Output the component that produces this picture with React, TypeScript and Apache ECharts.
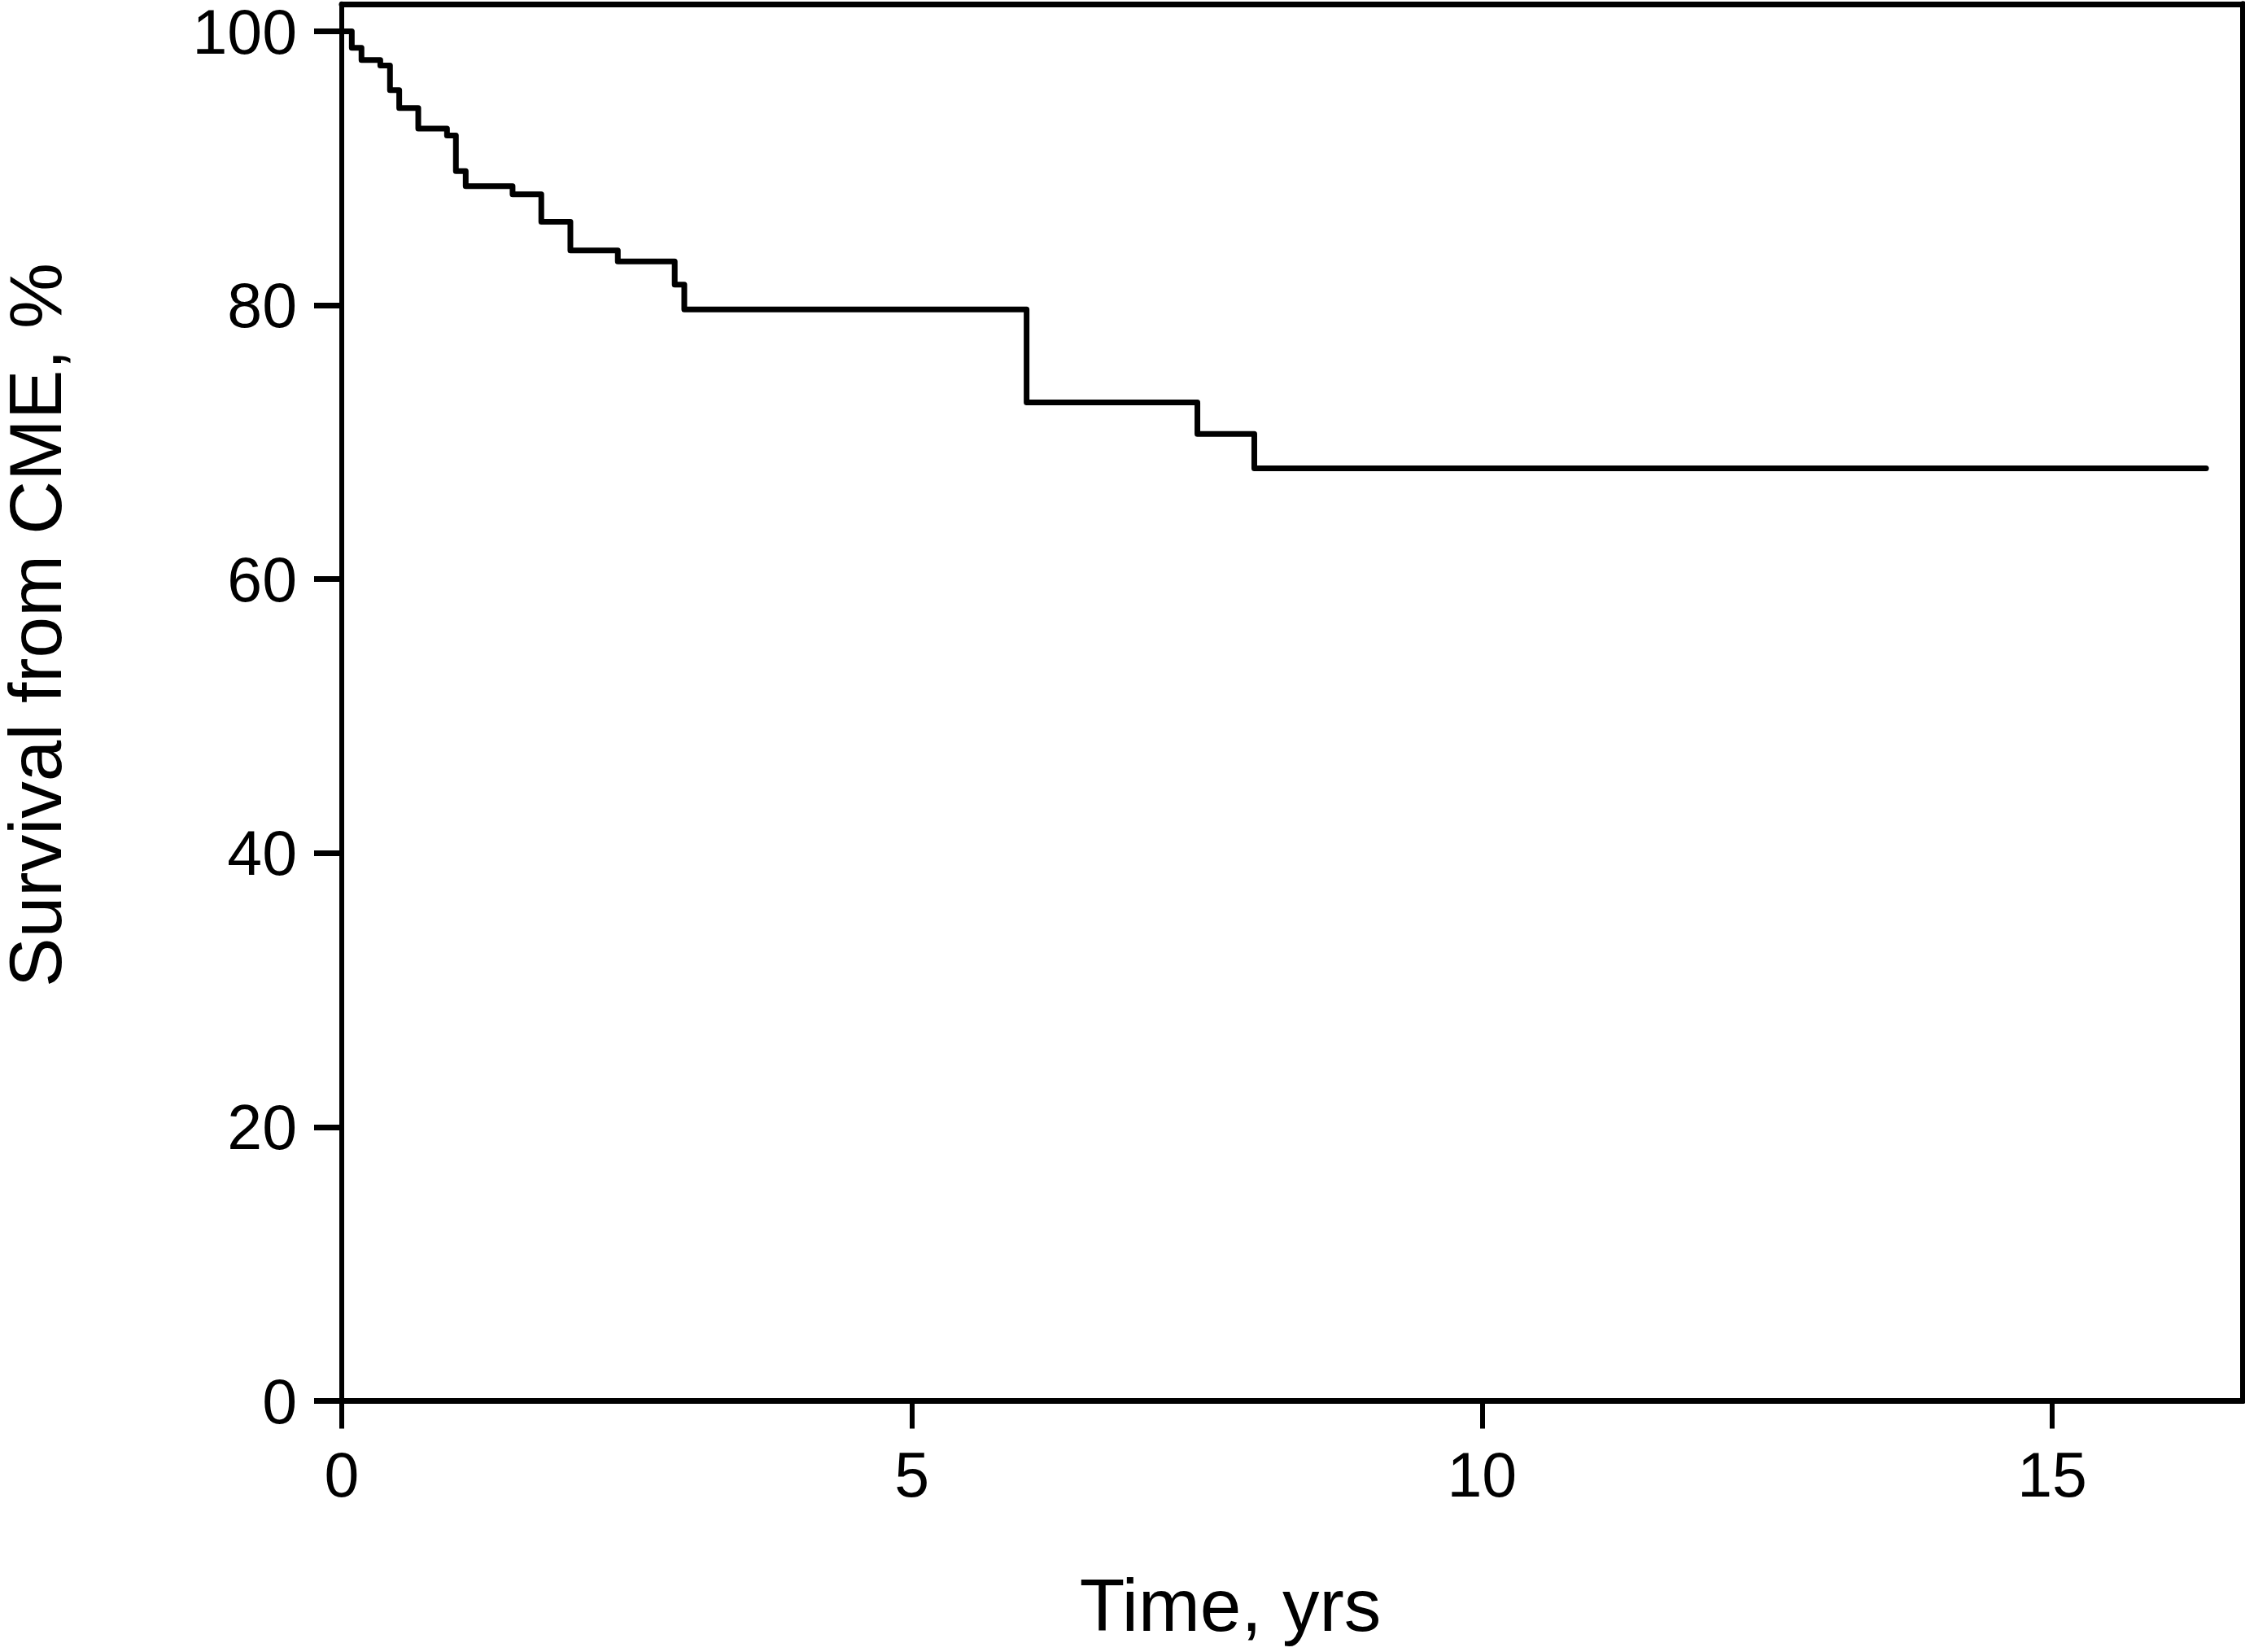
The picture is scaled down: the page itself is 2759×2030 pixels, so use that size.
import React, { useEffect, useRef } from "react";
import * as echarts from "echarts";

const times = [0, 0.088, 0.173, 0.338, 0.423, 0.504, 0.671, 0.923, 1.001, 1.087, 1.498, 1.75, 2.005, 2.421, 2.92, 3.004, 6.006, 7.504, 8.003, 16.35];
const survival = [100, 98.8, 97.9, 97.5, 95.7, 94.4, 92.9, 92.4, 89.8, 88.7, 88.1, 86.1, 84.0, 83.2, 81.5, 79.7, 72.9, 70.6, 68.1, 68.1];
const xTicks = [0, 5, 10, 15];
const yTicks = [0, 20, 40, 60, 80, 100];
const xTitle = "Time, yrs";
const yTitle = "Survival from CME, %";

const FONT = "'Liberation Sans', Arial, sans-serif";

export default function App() {
  const ref = useRef<HTMLDivElement>(null);
  useEffect(() => {
    document.body.style.margin = "0";
    const chart = echarts.init(ref.current!, null, { renderer: "svg" });
    const data = times.map((t, i) => [t, survival[i]]);
    chart.setOption({
      animation: false,
      backgroundColor: "#ffffff",
      grid: { left: 420, right: 3, top: 4, bottom: 308.5, containLabel: false },
      xAxis: [
        {
          type: "value",
          min: 0,
          max: 16.67,
          position: "bottom",
          axisLine: { show: true, onZero: false, lineStyle: { color: "#000", width: 7 } },
          axisTick: { show: true, length: 34, customValues: xTicks, lineStyle: { color: "#000", width: 6 } },
          axisLabel: { customValues: xTicks, margin: 52, fontSize: 77, fontFamily: FONT, color: "#000" },
          splitLine: { show: false },
        },
        {
          type: "value",
          min: 0,
          max: 16.67,
          position: "top",
          axisLine: { show: true, onZero: false, lineStyle: { color: "#000", width: 7 } },
          axisTick: { show: false },
          axisLabel: { show: false },
          splitLine: { show: false },
        },
      ],
      yAxis: [
        {
          type: "value",
          min: 0,
          max: 102,
          position: "left",
          axisLine: { show: true, onZero: false, lineStyle: { color: "#000", width: 6 } },
          axisTick: { show: true, length: 34, customValues: yTicks, lineStyle: { color: "#000", width: 7 } },
          axisLabel: { customValues: yTicks, margin: 55, fontSize: 77, fontFamily: FONT, color: "#000" },
          splitLine: { show: false },
        },
        {
          type: "value",
          min: 0,
          max: 102,
          position: "right",
          axisLine: { show: true, onZero: false, lineStyle: { color: "#000", width: 7 } },
          axisTick: { show: false },
          axisLabel: { show: false },
          splitLine: { show: false },
        },
      ],
      series: [
        {
          type: "line",
          step: "end",
          data,
          showSymbol: false,
          symbol: "none",
          lineStyle: { color: "#000", width: 7, cap: "round", join: "round" },
        },
      ],
      graphic: [
        {
          type: "text",
          x: 1512,
          y: 1972,
          style: { text: xTitle, fontSize: 91, fontFamily: FONT, fill: "#000", textAlign: "center", textVerticalAlign: "middle" },
        },
        {
          type: "text",
          x: 43,
          y: 768,
          rotation: Math.PI / 2,
          style: { text: yTitle, fontSize: 91, fontFamily: FONT, fill: "#000", textAlign: "center", textVerticalAlign: "middle" },
        },
      ],
    });
    return () => chart.dispose();
  }, []);
  return <div ref={ref} style={{ width: 2759, height: 2030 }} />;
}
